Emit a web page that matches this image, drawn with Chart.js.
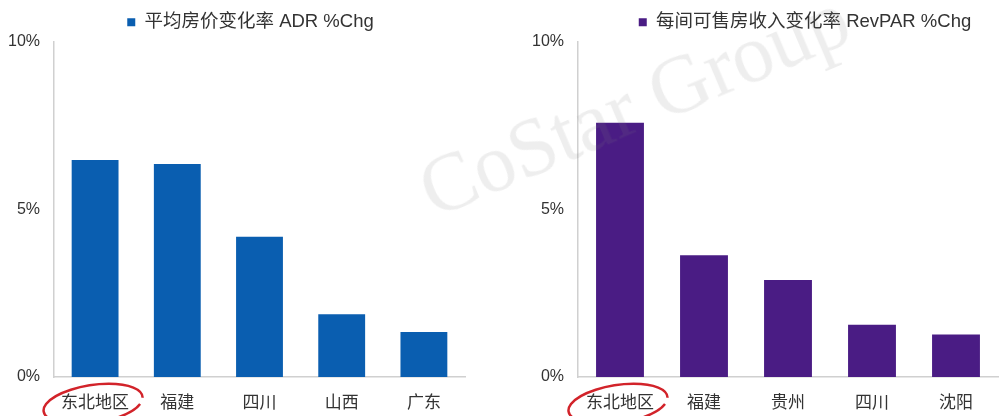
<!DOCTYPE html>
<html>
<head>
<meta charset="utf-8">
<script src="https://cdn.jsdelivr.net/npm/chart.js@4/dist/chart.umd.min.js"></script>
<style>
  html, body { margin: 0; padding: 0; background: #fff; }
  body { width: 1000px; height: 416px; position: relative; overflow: hidden; }
  .box { position: absolute; top: 0; height: 416px; width: 480px; }
  #left { left: 0; }
  #right { left: 520px; }
  #wm {
    position: absolute; left: 405px; top: 150px;
    font-family: "Liberation Serif", serif; font-size: 82px;
    color: rgba(120, 120, 120, 0.13);
    transform: rotate(-23deg); transform-origin: left top;
    white-space: nowrap; pointer-events: none;
  }
  #wm sup { font-size: 14px; vertical-align: top; font-family: "Liberation Sans", sans-serif; }
</style>
</head>
<body>
<div class="box" id="left"><canvas id="adr-chart"></canvas></div>
<div class="box" id="right"><canvas id="revpar-chart"></canvas></div>
<div id="wm">CoStar Group<sup>TM</sup></div>
<script>
var adr_labels = ['东北地区', '福建', '四川', '山西', '广东'];
var adr_values = [6.47, 6.35, 4.18, 1.87, 1.34];

var revpar_labels = ['东北地区', '福建', '贵州', '四川', '沈阳'];
var revpar_values = [7.58, 3.63, 2.89, 1.56, 1.27];

var y_ticks = [0, 5, 10];

var font_family = '"Liberation Sans", "Noto Sans CJK SC", sans-serif';

// red hand-drawn ring round the first category label
var ring = {
   id: 'ring',
   afterDraw: function (chart) {
      var ctx = chart.ctx;
      var x = chart.scales.x.getPixelForValue(0);
      var y = chart.chartArea.bottom + 27;
      ctx.save();
      ctx.strokeStyle = '#d2232a';
      ctx.lineWidth = 2.5;
      ctx.beginPath();
      ctx.ellipse(x - 2, y, 50, 19, -0.15, Math.PI * 0.12, Math.PI * 2.02);
      ctx.stroke();
      ctx.restore();
   }
};

// nudge the legend sideways (the original sits right of centre)
var legendShift = {
   id: 'legendShift',
   afterLayout: function (chart, args, opts) {
      chart.legend.left += opts.dx;
      chart.legend.right += opts.dx;
   }
};

function makeChart(id, labels, values, name, color, yWidth, padRight, dx) {
   return new Chart(document.getElementById(id), {
      type: 'bar',
      data: {
         labels: labels,
         datasets: [{
            label: name,
            data: values,
            backgroundColor: color,
            barPercentage: 1,
            categoryPercentage: 0.57
         }]
      },
      options: {
         responsive: true,
         maintainAspectRatio: false,
         animation: false,
         layout: { padding: { left: 0, right: padRight, bottom: 0 } },
         plugins: {
            legend: {
               position: 'top',
               labels: {
                  boxWidth: 8, boxHeight: 8,
                  color: '#333',
                  font: { family: font_family, size: 18.5 },
                  padding: 13
               }
            },
            legendShift: { dx: dx },
            tooltip: { enabled: false }
         },
         scales: {
            x: {
               afterFit: function (axis) { axis.height = 39; },
               grid: { display: false },
               border: { color: '#d0d0d0', width: 1.5 },
               ticks: { color: '#333', font: { family: font_family, size: 17 }, padding: 8 }
            },
            y: {
               min: 0, max: 10,
               afterFit: function (axis) { axis.width = yWidth; },
               afterBuildTicks: function (axis) {
                  axis.ticks = y_ticks.map(function (v) { return { value: v }; });
               },
               grid: { display: false },
               border: { color: '#d0d0d0', width: 1.5 },
               ticks: {
                  color: '#333', padding: 6,
                  font: { family: font_family, size: 16 },
                  callback: function (v) { return v + '%'; }
               }
            }
         }
      },
      plugins: [ring, legendShift]
   });
}

makeChart('adr-chart', adr_labels, adr_values, '平均房价变化率 ADR %Chg', '#0a5eb0', 54, 15, 18);
makeChart('revpar-chart', revpar_labels, revpar_values, '每间可售房收入变化率 RevPAR %Chg', '#4a1c84', 58, 2, 46);
</script>
</body>
</html>
